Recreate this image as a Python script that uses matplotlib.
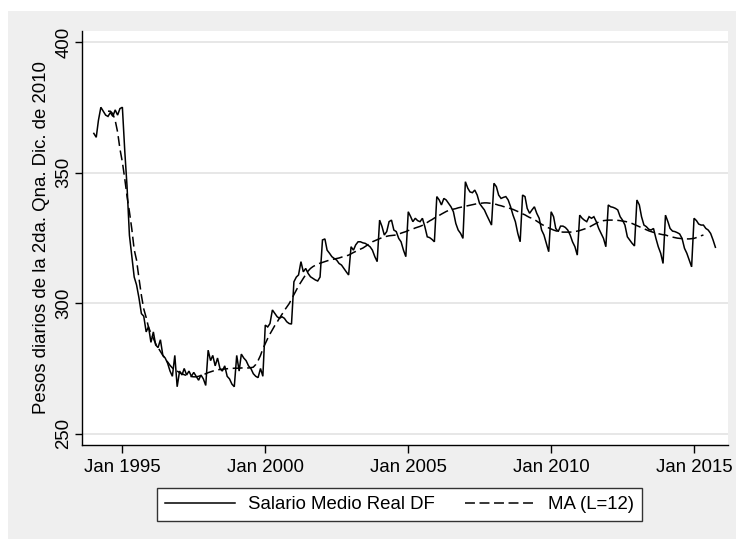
import matplotlib
matplotlib.use("Agg")
import matplotlib.pyplot as plt
import matplotlib.dates as mdates
import pandas as pd
import numpy as np

# Monthly real average wage, Jan 1994 - Oct 2015
salario = [
    365.0, 363.5, 370.0, 375.0, 373.5, 372.0, 371.5, 373.0, 371.5, 374.0, 372.0, 374.5,  # 1994
    375.0, 358.0, 345.0, 326.0, 318.0, 310.0, 307.0, 302.0, 296.0, 295.0, 289.0, 291.0,  # 1995
    285.0, 289.0, 284.0, 283.0, 286.0, 280.0, 279.0, 277.0, 274.0, 272.0, 280.0, 268.0,  # 1996
    274.0, 272.5, 275.0, 272.5, 274.0, 272.0, 273.5, 272.0, 270.5, 272.5, 271.0, 268.5,  # 1997
    282.0, 278.0, 280.0, 276.0, 279.0, 275.0, 274.0, 276.0, 272.0, 271.0, 269.0, 268.0,  # 1998
    280.0, 274.0, 280.5, 279.0, 278.0, 276.0, 275.0, 273.0, 272.0, 271.5, 275.0, 272.0,  # 1999
    291.6, 290.9, 292.2, 297.4, 296.1, 294.8, 294.2, 294.8, 294.2, 292.9, 292.2, 292.0,  # 2000
    308.2, 310.0, 310.8, 315.9, 312.0, 313.3, 311.4, 310.1, 309.5, 308.9, 308.5, 310.0,  # 2001
    324.2, 324.6, 320.3, 319.1, 317.8, 317.1, 316.5, 315.2, 314.6, 313.3, 312.0, 310.8,  # 2002
    321.6, 320.3, 322.3, 323.5, 323.5, 323.1, 322.9, 322.3, 321.6, 320.3, 317.8, 315.9,  # 2003
    331.8, 329.3, 326.1, 327.4, 331.2, 331.8, 328.0, 327.4, 324.8, 323.5, 320.3, 317.8,  # 2004
    335.0, 333.1, 331.2, 332.5, 331.6, 331.2, 332.5, 329.3, 325.4, 325.1, 324.4, 323.5,  # 2005
    340.8, 339.5, 337.6, 340.1, 339.5, 338.2, 336.9, 335.0, 330.5, 328.0, 326.7, 324.8,  # 2006
    346.5, 344.0, 342.6, 342.3, 343.3, 341.4, 338.2, 336.9, 335.7, 333.7, 331.8, 329.9,  # 2007
    345.9, 344.6, 341.4, 340.1, 340.5, 340.8, 339.5, 336.9, 333.7, 331.2, 326.7, 323.5,  # 2008
    341.4, 340.8, 336.3, 334.4, 335.7, 336.9, 334.4, 332.5, 328.0, 326.1, 322.9, 319.7,  # 2009
    335.0, 333.1, 328.6, 327.4, 329.5, 329.5, 329.0, 328.0, 326.1, 323.5, 321.6, 318.4,  # 2010
    333.7, 332.5, 331.8, 331.2, 333.1, 332.5, 333.1, 331.2, 328.6, 326.7, 324.8, 321.6,  # 2011
    337.6, 336.9, 336.7, 336.3, 335.7, 333.1, 331.8, 329.9, 325.4, 324.2, 322.9, 321.9,  # 2012
    339.5, 337.6, 333.1, 329.9, 329.3, 328.3, 328.0, 328.6, 324.8, 321.6, 319.1, 315.2,  # 2013
    333.7, 331.2, 328.6, 327.6, 327.4, 327.0, 326.5, 324.8, 321.0, 319.1, 316.5, 313.9,  # 2014
    332.5, 331.6, 330.3, 329.9, 329.9, 328.6, 328.0, 326.7, 324.2, 321.4,                # 2015
]

# 12-month moving average as drawn, Jul 1994 - May 2015
ma12 = [
    373.5, 373.5, 372.5, 370.0, 365.5, 359.0,                                      # 1994 Jul-Dec
    354.0, 347.5, 341.0, 335.0, 328.5, 320.5, 316.5, 309.5, 303.0, 297.8, 294.5, 290.8,  # 1995
    288.5, 286.5, 284.5, 283.0, 281.5, 280.0, 278.8, 277.5, 276.2, 275.2, 274.5, 274.0,  # 1996
    273.4, 273.0, 272.6, 272.3, 272.1, 271.9, 271.8, 271.8, 272.0, 272.3, 272.6, 273.0,  # 1997
    273.4, 273.7, 274.0, 274.3, 274.5, 274.6, 274.7, 274.8, 274.9, 275.0, 275.0, 275.1,  # 1998
    275.1, 275.1, 275.2, 275.2, 275.2, 275.2, 275.3, 275.5, 276.5, 278.0, 280.0, 282.5,  # 1999
    284.5, 286.5, 288.2, 289.8, 291.4, 292.8, 294.3, 295.7, 297.2, 298.5, 299.8, 301.5,  # 2000
    303.3, 305.0, 306.6, 308.1, 309.5, 310.9, 312.3, 313.3, 314.0, 314.5, 315.0, 315.3,  # 2001
    315.6, 315.9, 316.2, 316.5, 316.7, 316.9, 317.1, 317.3, 317.6, 317.9, 318.1, 318.4,  # 2002
    318.9, 319.4, 319.8, 320.3, 320.7, 321.1, 321.7, 322.3, 322.9, 323.5, 323.9, 324.3,  # 2003
    324.7, 325.1, 325.4, 325.6, 325.8, 325.9, 326.0, 326.1, 326.4, 326.8, 327.1, 327.4,  # 2004
    327.8, 328.1, 328.4, 328.8, 329.1, 329.4, 329.8, 330.3, 330.9, 331.5, 332.0, 332.6,  # 2005
    333.1, 333.6, 334.1, 334.6, 335.1, 335.5, 335.8, 336.0, 336.2, 336.5, 336.7, 336.9,  # 2006
    337.1, 337.3, 337.5, 337.7, 337.9, 338.1, 338.2, 338.3, 338.4, 338.4, 338.3, 338.2,  # 2007
    338.0, 337.8, 337.5, 337.3, 337.0, 336.8, 336.5, 336.2, 335.9, 335.5, 335.1, 334.7,  # 2008
    334.2, 333.8, 333.3, 332.8, 332.5, 332.0, 331.4, 330.8, 330.2, 329.7, 329.2, 328.8,  # 2009
    328.4, 328.0, 327.7, 327.4, 327.3, 327.2, 327.2, 327.2, 327.2, 327.3, 327.4, 327.6,  # 2010
    327.8, 328.1, 328.4, 328.7, 329.1, 329.6, 330.1, 330.6, 331.1, 331.4, 331.6, 331.7,  # 2011
    331.8, 331.8, 331.8, 331.8, 331.7, 331.6, 331.4, 331.3, 331.1, 330.8, 330.5, 330.1,  # 2012
    329.7, 329.3, 328.9, 328.5, 328.1, 327.7, 327.4, 327.1, 326.9, 326.6, 326.4, 326.2,  # 2013
    326.1, 325.8, 325.5, 325.3, 325.1, 324.9, 324.8, 324.7, 324.6, 324.6, 324.6, 324.7,  # 2014
    324.8, 325.1, 325.4, 325.8, 326.1,                                              # 2015 Jan-May
]

start_month = "1994-01-01"
ma_offset = 6  # MA starts in Jul 1994

y_ticks = [250, 300, 350, 400]
x_tick_years = [1995, 2000, 2005, 2010, 2015]
y_label = "Pesos diarios de la 2da. Qna. Dic. de 2010"
legend_labels = ["Salario Medio Real DF", "MA (L=12)"]

plt.rcParams["font.family"] = ["Liberation Sans", "DejaVu Sans"]

W, H = 736, 539
fig = plt.figure(figsize=(W / 100, H / 100), dpi=100, facecolor="white")

# grey Stata-like background (screenshot has a thin white margin at top/left)
fig.patches.append(plt.Rectangle((8 / W, 0), 1 - 8 / W, 1 - 11 / H,
                                 transform=fig.transFigure, facecolor="#efefef",
                                 edgecolor="none", zorder=-10))

left, right, top, bottom = 82, 728, 31, 445
ax = fig.add_axes([left / W, 1 - bottom / H, (right - left) / W, (bottom - top) / H])
ax.set_facecolor("white")

dates = pd.date_range(start_month, periods=len(salario), freq="MS")
ma_dates = dates[ma_offset:ma_offset + len(ma12)]

ax.plot(dates, salario, color="black", lw=1.1, solid_joinstyle="miter",
        label=legend_labels[0], zorder=3)
ax.plot(ma_dates, ma12, color="black", lw=1.1, linestyle=(0, (6.5, 3)),
        label=legend_labels[1], zorder=3)

ax.set_xlim(pd.Timestamp("1993-08-03"), pd.Timestamp("2016-03-10"))
ax.set_ylim(245.7, 404.2)

ax.set_yticks(y_ticks)
ax.set_xticks([pd.Timestamp(f"{y}-01-01") for y in x_tick_years])
ax.xaxis.set_major_formatter(mdates.DateFormatter("Jan %Y"))

ax.grid(axis="y", color="#e3e3e3", lw=1.2)
ax.grid(axis="x", visible=False)
ax.set_axisbelow(True)

for s in ["top", "right"]:
    ax.spines[s].set_visible(False)
for s in ["left", "bottom"]:
    ax.spines[s].set_linewidth(1.0)
    ax.spines[s].set_color("black")

fs = 13.4
ax.tick_params(axis="x", length=6, width=1.0, pad=4, labelsize=fs, direction="out")
ax.tick_params(axis="y", length=5, width=1.0, pad=2, labelsize=fs, direction="out",
               labelrotation=90)
for lab in ax.get_yticklabels():
    lab.set_va("center")

ax.set_ylabel(y_label, fontsize=fs, labelpad=4)

leg = fig.legend(loc="center", bbox_to_anchor=(399.5 / W, 1 - 504.5 / H), ncol=2,
                 fontsize=fs, frameon=True, fancybox=False, shadow=False,
                 handlelength=3.76, handletextpad=0.65, columnspacing=1.67,
                 borderpad=0.45, borderaxespad=0)
leg.get_frame().set_edgecolor("#333333")
leg.get_frame().set_linewidth(1.0)
leg.get_frame().set_facecolor("white")
leg.get_frame().set_alpha(1)

fig.savefig("out.png", dpi=100, facecolor=fig.get_facecolor())
